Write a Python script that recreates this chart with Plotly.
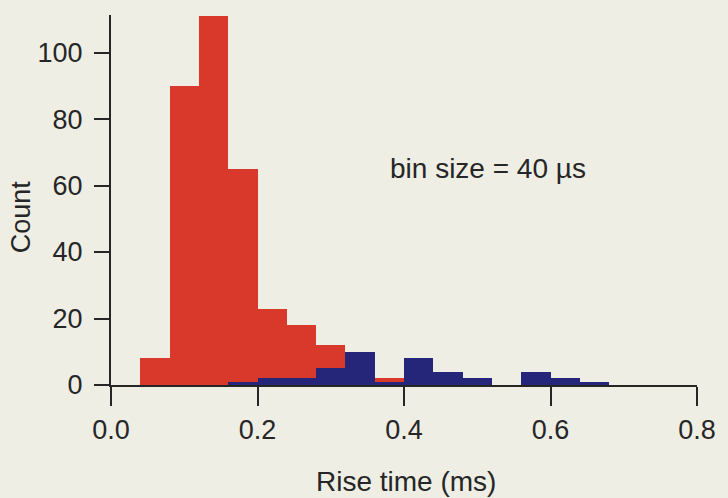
import plotly.graph_objects as go

# Histogram data (bin width 0.04 ms = 40 µs)
bin_width = 0.04
bin_left = [0.04, 0.08, 0.12, 0.16, 0.20, 0.24, 0.28, 0.32,
            0.36, 0.40, 0.44, 0.48, 0.52, 0.56, 0.60, 0.64]
red_counts = [8, 90, 111, 65, 23, 18, 12, 6, 2, 0, 0, 0, 0, 0, 0, 0]
navy_counts = [0, 0, 0, 1, 2, 2, 5, 10, 1, 8, 4, 2, 0, 4, 2, 1]

x_ticks = [0.0, 0.2, 0.4, 0.6, 0.8]
x_ticklabels = ["0.0", "0.2", "0.4", "0.6", "0.8"]
y_ticks = [0, 20, 40, 60, 80, 100]

RED = "#d8392a"
NAVY = "#25257a"
INK = "#262626"
BG = "#eeeee4"
FONT = "Liberation Sans, Arial, sans-serif"

centers = [b + bin_width / 2 for b in bin_left]

fig = go.Figure()
fig.add_trace(go.Bar(x=centers, y=red_counts, width=bin_width,
                     marker=dict(color=RED, line=dict(width=0)),
                     showlegend=False, hoverinfo="skip"))
fig.add_trace(go.Bar(x=centers, y=navy_counts, width=bin_width,
                     marker=dict(color=NAVY, line=dict(width=0)),
                     showlegend=False, hoverinfo="skip"))

fig.update_layout(
    width=728, height=498,
    margin=dict(l=111, r=22, t=15, b=113),
    paper_bgcolor=BG, plot_bgcolor=BG,
    barmode="overlay", bargap=0,
    font=dict(family=FONT, size=27, color=INK),
    xaxis=dict(range=[0, 0.8], tickvals=x_ticks, ticktext=x_ticklabels,
               showgrid=False, zeroline=False, showline=True,
               linecolor=INK, linewidth=2, ticks="outside", ticklen=19,
               tickwidth=2, tickcolor=INK, ticklabelstandoff=1,
               tickfont=dict(size=27, color=INK, family=FONT)),
    yaxis=dict(range=[0, 111.3], tickvals=y_ticks,
               showgrid=False, zeroline=False, showline=True,
               linecolor=INK, linewidth=2, ticks="outside", ticklen=15,
               tickwidth=2, tickcolor=INK, ticklabelstandoff=6,
               tickfont=dict(size=27, color=INK, family=FONT)),
    annotations=[
        dict(text="Count", xref="paper", yref="paper", x=-0.153, y=0.454,
             textangle=-90, showarrow=False, xanchor="center", yanchor="middle",
             font=dict(size=27, color=INK, family=FONT)),
        dict(text="Rise time (ms)", xref="paper", yref="paper", x=0.504, y=-0.262,
             showarrow=False, xanchor="center", yanchor="middle",
             font=dict(size=28, color=INK, family=FONT)),
        dict(text="bin size = 40 µs", xref="paper", yref="paper", x=0.643, y=0.586,
             showarrow=False, xanchor="center", yanchor="middle",
             font=dict(size=28, color=INK, family=FONT)),
    ],
)

fig.write_html("out.html")
